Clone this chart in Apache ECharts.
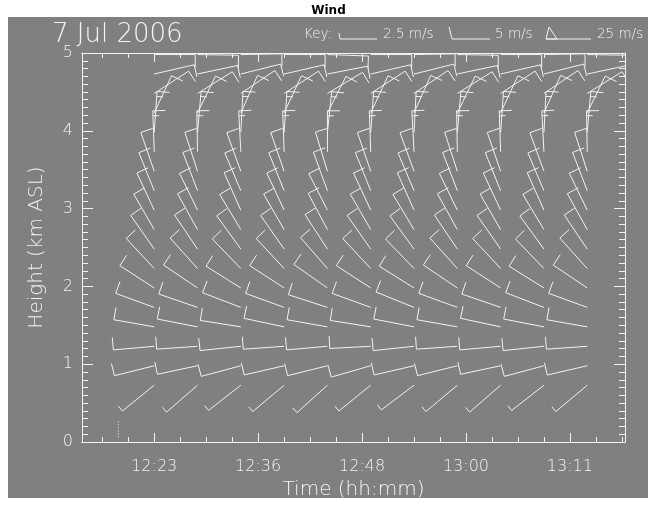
<!DOCTYPE html>
<html>
<head>
<meta charset="utf-8">
<script src="https://cdn.jsdelivr.net/npm/echarts@6/dist/echarts.min.js"></script>
<style>
  html, body { margin: 0; padding: 0; background: #ffffff; }
  #chart { width: 657px; height: 505px; }
</style>
</head>
<body>
<div id="chart"></div>
<script>
// ---------- data ----------
const times = ['12:24','12:29','12:34','12:39','12:44','12:49','12:54','12:59','13:04','13:09','13:14'];
const heights = [0.73,0.98,1.23,1.48,1.73,1.98,2.23,2.48,2.73,2.98,3.23,3.48,3.73,3.98,4.23,4.48,4.73,4.98];
// wind direction (deg, direction the wind comes from), rows = heights, cols = times
const windDir = [
  [231,229,232,230,228,231,233,230,229,232,230],
  [256,258,255,257,256,254,257,256,258,255,257],
  [265,266,264,266,265,267,264,266,265,264,266],
  [280,281,279,282,280,279,281,280,282,281,280],
  [290,289,291,290,288,290,292,290,289,291,290],
  [303,304,302,303,305,303,302,304,303,302,304],
  [317,318,316,317,319,317,316,318,317,316,318],
  [325,326,324,325,327,325,324,326,325,324,326],
  [330,331,329,330,332,330,329,331,330,329,331],
  [335,334,336,335,333,335,336,334,335,336,334],
  [338,339,337,338,340,338,337,339,338,337,339],
  [341,342,340,341,343,341,340,342,341,340,342],
  [358,359,357,358,0,358,357,359,358,357,359],
  [4,5,3,4,6,4,3,5,4,3,5],
  [25,26,24,25,27,25,24,26,25,24,26],
  [57,58,56,57,59,57,56,58,57,56,58],
  [77,78,76,77,79,77,76,78,77,76,78],
  [90,91,89,90,92,90,89,91,90,89,91]
];
// wind speed (m/s)
const windSpd = [
  [2.5,2.5,2.5,2.5,2.5,2.5,2.5,2.5,2.5,2.5,2.5],
  [5,5,5,5,5,5,5,5,5,5,5],
  [5,5,5,5,5,5,5,5,5,5,5],
  [5,5,5,5,5,5,5,5,5,5,5],
  [5,5,5,5,5,5,5,5,5,5,5],
  [5,5,5,5,5,5,5,5,5,5,5],
  [5,5,5,5,5,5,5,5,5,5,5],
  [5,5,5,5,5,5,5,5,5,5,5],
  [5,5,5,5,5,5,5,5,5,5,5],
  [5,5,5,5,5,5,5,5,5,5,5],
  [5,5,5,5,5,5,5,5,5,5,5],
  [5,5,5,5,5,5,5,5,5,5,5],
  [7.5,7.5,7.5,7.5,7.5,7.5,7.5,7.5,7.5,7.5,7.5],
  [7.5,7.5,7.5,7.5,7.5,7.5,7.5,7.5,7.5,7.5,7.5],
  [5,5,5,5,5,5,5,5,5,5,5],
  [5,5,5,5,5,5,5,5,5,5,5],
  [5,5,5,5,5,5,5,5,5,5,5],
  [5,5,5,5,5,5,5,5,5,5,5]
];
// x axis: decimal hours
const xMajorTicks = [12.4, 12.6, 12.8, 13.0, 13.2];
const xMajorLabels = ['12:23','12:36','12:48','13:00','13:11'];
const xMinorTicks = [12.30,12.35,12.45,12.50,12.55,12.65,12.70,12.75,12.85,12.90,12.95,13.05,13.10,13.15,13.25,13.30];
const xRange = [12.261, 13.306];
const yRange = [0, 5];
// dotted marker near the surface
const dotTime = 12.331;
const dotHeights = [0.06, 0.28];

// ---------- build ----------
function toHours(s) { const p = s.split(':'); return +p[0] + (+p[1]) / 60; }
const barbData = [];
heights.forEach((h, i) => {
  times.forEach((t, j) => {
    barbData.push([toHours(t), h, windDir[i][j], windSpd[i][j]]);
  });
});

const FG = '#f2f2f2';
const BG = '#808080';
const FONT = 'DejaVu Sans';
const FW = 200;
const STAFF = 41, FEATHER = 12.5, GAP = 5;

function renderBarb(params, api) {
  const p = api.coord([api.value(0), api.value(1)]);
  const dir = api.value(2) * Math.PI / 180;
  let spd = api.value(3);
  const ux = Math.sin(dir), uy = -Math.cos(dir);
  const tip = [p[0] + ux * STAFF, p[1] + uy * STAFF];
  const fx = -uy, fy = ux;
  const style = { stroke: FG, lineWidth: 1, fill: null };
  const children = [{ type: 'line', shape: { x1: p[0], y1: p[1], x2: tip[0], y2: tip[1] }, style }];
  let pos = 0;
  while (spd >= 25 - 1e-6) {
    const a = [tip[0] - ux * pos, tip[1] - uy * pos];
    const b = [tip[0] - ux * (pos + 6), tip[1] - uy * (pos + 6)];
    children.push({ type: 'polygon', shape: { points: [a, [a[0] + fx * FEATHER, a[1] + fy * FEATHER], b] }, style });
    pos += 7; spd -= 25;
  }
  while (spd >= 5 - 1e-6) {
    const a = [tip[0] - ux * pos, tip[1] - uy * pos];
    children.push({ type: 'line', shape: { x1: a[0], y1: a[1], x2: a[0] + fx * FEATHER, y2: a[1] + fy * FEATHER }, style });
    pos += GAP; spd -= 5;
  }
  if (spd >= 2.5 - 1e-6) {
    const a = [tip[0] - ux * pos, tip[1] - uy * pos];
    children.push({ type: 'line', shape: { x1: a[0], y1: a[1], x2: a[0] + fx * FEATHER / 2, y2: a[1] + fy * FEATHER / 2 }, style });
  }
  return { type: 'group', children };
}

const axisLineStyle = { show: true, lineStyle: { color: FG, width: 1 } };
function xAx(pos, ticks, len, labels) {
  return {
    type: 'value', position: pos, min: xRange[0], max: xRange[1],
    axisLine: axisLineStyle,
    axisTick: { show: true, inside: true, length: len, customValues: ticks, lineStyle: { color: FG } },
    axisLabel: labels ? {
      show: true, customValues: xMajorTicks, color: FG, fontFamily: FONT, fontSize: 16, fontWeight: FW, margin: 17,
      formatter: v => { const k = xMajorTicks.findIndex(m => Math.abs(m - v) < 1e-6); return k >= 0 ? xMajorLabels[k] : ''; }
    } : { show: false },
    splitLine: { show: false },
    name: labels ? 'Time (hh:mm)' : '', nameLocation: 'middle', nameGap: 36,
    nameTextStyle: { color: FG, fontFamily: FONT, fontSize: 20, fontWeight: FW }
  };
}
function yAx(pos, labels) {
  return {
    type: 'value', position: pos, min: yRange[0], max: yRange[1], interval: 1,
    axisLine: axisLineStyle,
    axisTick: { show: true, inside: true, length: 11, lineStyle: { color: FG } },
    minorTick: { show: true, splitNumber: 10, length: 6, lineStyle: { color: FG } },
    axisLabel: labels ? { show: true, color: FG, fontFamily: FONT, fontSize: 16, fontWeight: FW, margin: 9 } : { show: false },
    splitLine: { show: false }, minorSplitLine: { show: false },
    name: labels ? 'Height (km ASL)' : '', nameLocation: 'middle', nameGap: 35,
    nameTextStyle: { color: FG, fontFamily: FONT, fontSize: 20, fontWeight: FW }
  };
}

const chart = echarts.init(document.getElementById('chart'), null, { renderer: 'canvas' });
chart.setOption({
  backgroundColor: '#ffffff',
  animation: false,
  title: {
    text: 'Wind', left: 'center', top: 0,
    textStyle: { color: '#000', fontFamily: FONT, fontSize: 12, fontWeight: 'bold' }
  },
  grid: { left: 82, right: 32, top: 53, bottom: 63 },
  xAxis: [
    xAx('bottom', xMajorTicks, 9, true),
    xAx('bottom', xMinorTicks, 5, false),
    xAx('top', xMajorTicks, 9, false),
    xAx('top', xMinorTicks, 5, false)
  ],
  yAxis: [yAx('left', true), yAx('right', false)],
  graphic: [
    { type: 'rect', z: -10, shape: { x: 8, y: 17, width: 640, height: 481 }, style: { fill: BG } },
    { type: 'text', left: 52, top: 22, style: { text: '7 Jul 2006', fill: FG, font: '200 26px "DejaVu Sans"' } },
    { type: 'text', left: 304, top: 27, style: { text: 'Key:', fill: FG, font: '200 13.5px "DejaVu Sans"' } },
    { type: 'line', shape: { x1: 340, y1: 39, x2: 377, y2: 39 }, style: { stroke: FG } },
    { type: 'line', shape: { x1: 340, y1: 39, x2: 339, y2: 33 }, style: { stroke: FG } },
    { type: 'text', left: 383, top: 27, style: { text: '2.5 m/s', fill: FG, font: '200 13.5px "DejaVu Sans"' } },
    { type: 'line', shape: { x1: 452, y1: 39, x2: 490, y2: 39 }, style: { stroke: FG } },
    { type: 'line', shape: { x1: 452, y1: 39, x2: 449, y2: 27 }, style: { stroke: FG } },
    { type: 'text', left: 495, top: 27, style: { text: '5 m/s', fill: FG, font: '200 13.5px "DejaVu Sans"' } },
    { type: 'polygon', shape: { points: [[546, 39], [549, 27], [557, 39]] }, style: { stroke: FG, fill: null } },
    { type: 'line', shape: { x1: 546, y1: 39, x2: 591, y2: 39 }, style: { stroke: FG } },
    { type: 'text', left: 597, top: 27, style: { text: '25 m/s', fill: FG, font: '200 13.5px "DejaVu Sans"' } }
  ],
  series: [
    {
      type: 'custom', xAxisIndex: 0, yAxisIndex: 0, clip: true,
      renderItem: renderBarb, data: barbData, silent: true
    },
    {
      type: 'line', xAxisIndex: 0, yAxisIndex: 0, symbol: 'none', silent: true,
      data: dotHeights.map(h => [dotTime, h]),
      lineStyle: { color: FG, width: 1, type: [1, 2] }
    }
  ]
});
</script>
</body>
</html>
